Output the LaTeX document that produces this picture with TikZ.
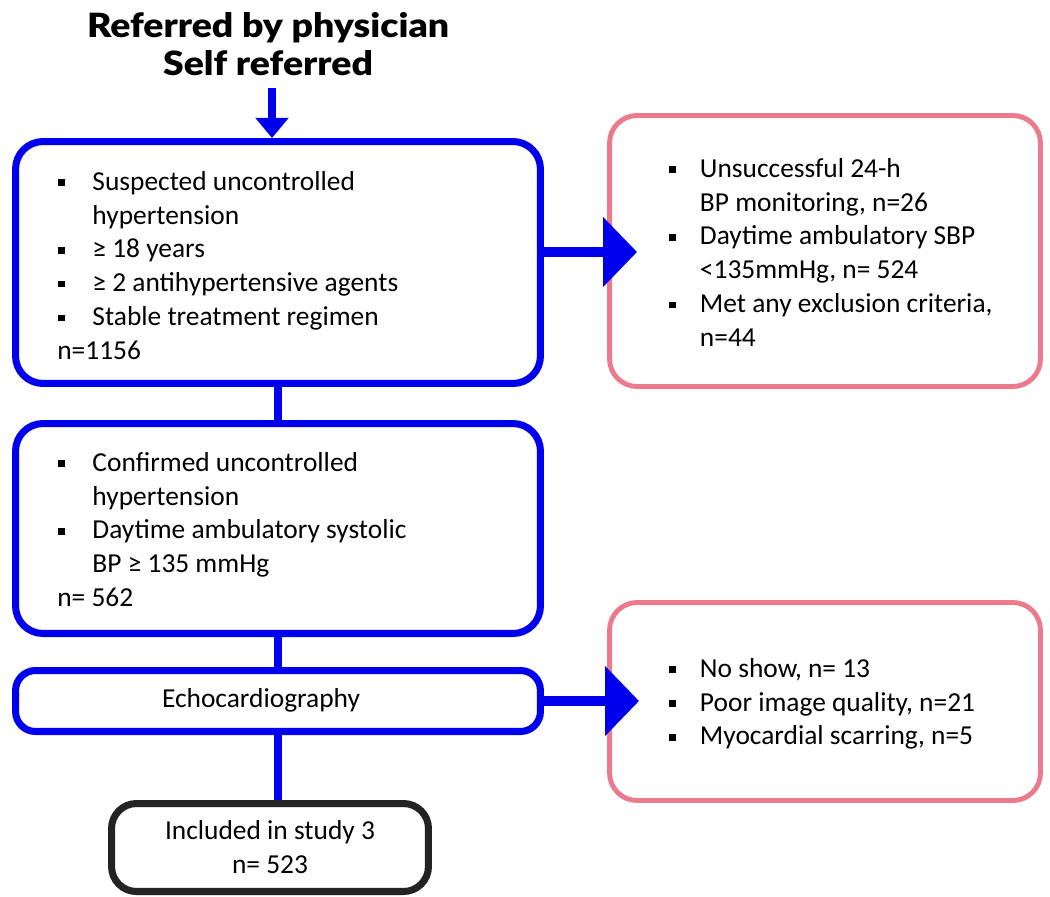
\documentclass[tikz,border=0pt]{standalone}
\usepackage{fontspec}
\setmainfont{Carlito}
\newfontfamily\titlefont{Lato Black}[FakeStretch=1.12]
\usetikzlibrary{arrows.meta}
\definecolor{flowblue}{RGB}{0,0,238}
\definecolor{exclpink}{RGB}{234,122,140}
\definecolor{inclblack}{RGB}{35,35,35}
\newcommand{\sqb}{\hspace{0.5pt}\rule[0.16em]{3.6pt}{3.6pt}}
\newcommand{\bodyfont}{\fontsize{15.6pt}{19.3pt}\selectfont}

\begin{document}
\begin{tikzpicture}[x=0.02cm,y=-0.02cm,
    bluebox/.style={draw=flowblue,line width=4pt,rounded corners=0.55cm,inner sep=0pt},
    pinkbox/.style={draw=exclpink,line width=2.8pt,rounded corners=0.55cm,inner sep=0pt},
    inclbox/.style={draw=inclblack,line width=4pt,rounded corners=0.5cm,inner sep=0pt,align=center,font=\bodyfont},
    txt/.style={anchor=north west,inner sep=0pt,font=\bodyfont},
    link/.style={draw=flowblue,line width=4pt},
    bigarrow/.style={draw=flowblue,line width=5.7pt,-{Triangle[length=19.3pt,width=38.7pt]}},
    toparrow/.style={draw=flowblue,line width=4.5pt,-{Triangle[length=11.4pt,width=18.2pt]}}]
    \useasboundingbox (0,0) rectangle (1050,896);

    % source of referrals
    \node[align=center,inner sep=0pt,font={\fontsize{19pt}{22pt}\titlefont}] (refer) at (268,44) {Referred by physician\\Self referred};
    \coordinate (src) at (272,88);

    % main column
    \node[bluebox,minimum width=10.5cm,minimum height=4.84cm] (suspect) at (278,262.5) {};
    \node[txt] (suspectTxt) at (57,166) {\begin{tabular}{@{}p{20pt}@{}l@{}}
        \sqb & Suspected uncontrolled\\
             & hypertension\\
        \sqb & ≥ 18 years\\
        \sqb & ≥ 2 antihypertensive agents\\
        \sqb & Stable treatment regimen\\
        \multicolumn{2}{@{}l@{}}{n=1156}
    \end{tabular}};

    \node[bluebox,minimum width=10.5cm,minimum height=4.2cm] (confirm) at (278,528.5) {};
    \node[txt] (confirmTxt) at (57,447) {\begin{tabular}{@{}p{20pt}@{}l@{}}
        \sqb & Confirmed uncontrolled\\
             & hypertension\\
        \sqb & Daytime ambulatory systolic\\
             & BP ≥ 135 mmHg\\
        \multicolumn{2}{@{}l@{}}{n= 562}
    \end{tabular}};

    \node[bluebox,rounded corners=0.4cm,minimum width=10.5cm,minimum height=1.22cm] (echo) at (278,701) {};
    \node[font=\bodyfont,inner sep=0pt] (echoTxt) at (261,700) {Echocardiography};

    \node[inclbox,minimum width=6.34cm,minimum height=1.76cm] (incl) at (270,847.5) {Included in study 3\\n= 523};

    % exclusions
    \node[pinkbox,minimum width=8.62cm,minimum height=5.42cm] (exclA) at (825,251) {};
    \node[txt] (exclATxt) at (668,153) {\begin{tabular}{@{}p{18pt}@{}l@{}}
        \sqb & Unsuccessful 24-h\\
             & BP monitoring, n=26\\
        \sqb & Daytime ambulatory SBP\\
             & <135mmHg, n= 524\\
        \sqb & Met any exclusion criteria,\\
             & n=44
    \end{tabular}};

    \node[pinkbox,minimum width=8.62cm,minimum height=3.96cm] (exclB) at (825,701.5) {};
    \node[txt] (exclBTxt) at (668,653) {\begin{tabular}{@{}p{18pt}@{}l@{}}
        \sqb & No show, n= 13\\
        \sqb & Poor image quality, n=21\\
        \sqb & Myocardial scarring, n=5
    \end{tabular}};

    % connectors
    \draw[toparrow] (src) -- (suspect.north -| src);
    \draw[link] (suspect.south) -- (confirm.north);
    \draw[link] (confirm.south) -- (echo.north);
    \draw[link] (echo.south) -- (echo.south |- incl.north);
    \coordinate (tipA) at (637,252);
    \draw[bigarrow] (suspect.east |- tipA) -- (tipA);
    \coordinate (tipB) at (639,701);
    \draw[bigarrow] (echo.east) -- (tipB);
\end{tikzpicture}
\end{document}
